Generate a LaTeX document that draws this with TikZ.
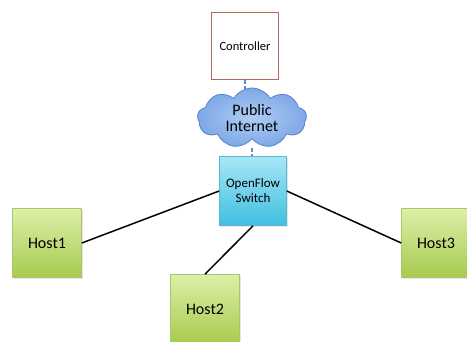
\documentclass[tikz,border=0pt]{standalone}
\usepackage{fontspec}
\setmainfont{Carlito}
\usetikzlibrary{shapes.symbols,shadows}
\definecolor{hostTop}{HTML}{DCEFA8}
\definecolor{hostBot}{HTML}{A6CB4E}
\definecolor{hostEdge}{HTML}{A9C66A}
\definecolor{swTop}{HTML}{A8E6F6}
\definecolor{swBot}{HTML}{3FBFE0}
\definecolor{swEdge}{HTML}{5CB8D2}
\definecolor{cloudIn}{HTML}{AFCDF3}
\definecolor{cloudOut}{HTML}{7EA8E6}
\definecolor{cloudEdge}{HTML}{5584CC}
\definecolor{ctrlEdge}{HTML}{B9635F}
\definecolor{dashBlue}{HTML}{5B8BD0}
\tikzset{
  hostbox/.style={rectangle, draw=hostEdge, line width=0.6pt,
    top color=hostTop, bottom color=hostBot,
    minimum width=69pt, minimum height=69pt, inner sep=0pt,
    font=\fontsize{16}{18}\selectfont,
    drop shadow={opacity=0.2, shadow xshift=1.5pt, shadow yshift=-1.5pt}},
  switchbox/.style={rectangle, draw=swEdge, line width=0.6pt,
    top color=swTop, bottom color=swBot,
    minimum width=67pt, minimum height=69pt, inner sep=0pt,
    align=center, font=\fontsize{13}{15}\selectfont,
    drop shadow={opacity=0.2, shadow xshift=1.5pt, shadow yshift=-1.5pt}},
  ctrlbox/.style={rectangle, draw=ctrlEdge, line width=1.4pt, fill=white,
    minimum width=67pt, minimum height=67pt, inner sep=0pt,
    font=\fontsize{12.5}{14}\selectfont},
  netcloud/.style={cloud, cloud puffs=9, cloud puff arc=120, aspect=1.85,
    draw=cloudEdge, line width=0.8pt, inner color=cloudIn, outer color=cloudOut,
    minimum width=109pt, minimum height=60pt, inner sep=0pt,
    align=center, font=\fontsize{16}{18}\selectfont},
  link/.style={line width=1.5pt, black},
  tunnel/.style={line width=2pt, dashBlue, dash pattern=on 3.5pt off 2.5pt}
}
\begin{document}
\begin{tikzpicture}[x=1pt, y=-1pt]
  \useasboundingbox (0,0) rectangle (467,341);
  \clip (0,0) rectangle (467,341);
  \fill[white] (0,0) rectangle (467,341);

  % core path: controller over the internet to the switch
  \node[ctrlbox] (ctrl) at (245,46) {Controller};
  \node[netcloud] (net) at (252,118) {Public\\[-2pt]Internet};
  \node[switchbox] (sw) at (253,191) {OpenFlow\\Switch};

  % attached hosts
  \node[hostbox] (h1) at (47,243) {Host1};
  \node[hostbox] (h2) at (205,309) {Host2};
  \node[hostbox] (h3) at (436,243) {Host3};

  % control channel
  \coordinate (c1) at (245,90);
  \coordinate (c2) at (252,148);
  \draw[tunnel] (ctrl.south) -- (c1);
  \draw[tunnel] (c2) -- (sw.north -| c2);

  % data links
  \draw[link] (h1.east) -- (sw.west);
  \draw[link] (h2.north) -- (sw.south);
  \draw[link] (sw.east) -- (h3.west);
\end{tikzpicture}
\end{document}
